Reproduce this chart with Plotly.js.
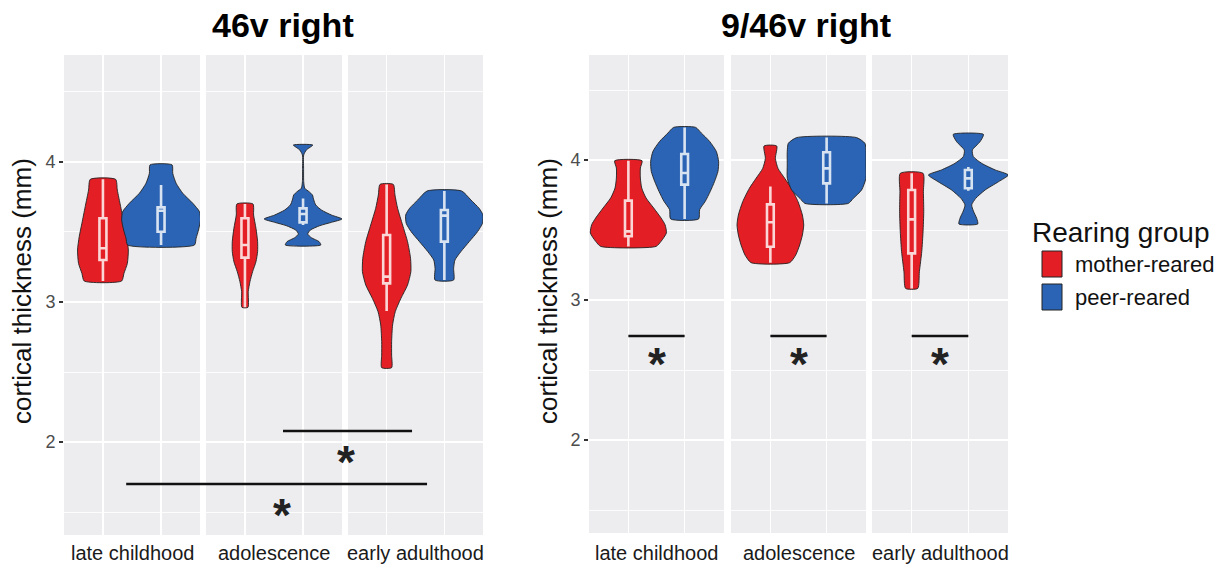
<!DOCTYPE html>
<html><head><meta charset="utf-8">
<script src="https://cdn.plot.ly/plotly-3.0.1.min.js"></script>
<style>html,body{margin:0;padding:0;background:#fff;}#chart{width:1221px;height:568px;}</style>
</head><body><div id="chart"></div>
<script>
// ---------------- DATA ----------------
const regions = ['46v right', '9/46v right'];
const ageGroups = ['late childhood', 'adolescence', 'early adulthood'];
const rearingGroups = ['mother-reared', 'peer-reared'];

// Violin outlines: cortical thickness levels (mm) and half-widths (x units)
// 46v right
const thick46_LC_mother = [3.876, 3.8, 3.681, 3.562, 3.467, 3.371, 3.276, 3.205, 3.15];
const halfw46_LC_mother = [0.218, 0.247, 0.305, 0.362, 0.408, 0.437, 0.42, 0.362, 0.322];
const thick46_LC_peer = [3.979, 3.919, 3.848, 3.776, 3.705, 3.645, 3.586, 3.514, 3.455, 3.407];
const halfw46_LC_peer = [0.19, 0.201, 0.259, 0.374, 0.546, 0.661, 0.678, 0.644, 0.603, 0.575];
const thick46_AD_mother = [3.7, 3.621, 3.526, 3.431, 3.36, 3.288, 3.217, 3.145, 3.074, 2.962];
const halfw46_AD_mother = [0.138, 0.149, 0.19, 0.218, 0.218, 0.19, 0.132, 0.086, 0.057, 0.052];
const thick46_AD_peer = [4.121, 4.086, 4.05, 3.955, 3.86, 3.812, 3.788, 3.764, 3.729, 3.693, 3.657, 3.621, 3.593, 3.569, 3.545, 3.514, 3.486, 3.459, 3.431, 3.407];
const halfw46_AD_peer = [0.167, 0.057, 0.011, 0.009, 0.011, 0.029, 0.103, 0.161, 0.184, 0.218, 0.316, 0.489, 0.67, 0.489, 0.287, 0.126, 0.08, 0.144, 0.276, 0.305];
const thick46_EA_mother = [3.84, 3.764, 3.669, 3.55, 3.431, 3.312, 3.217, 3.121, 3.026, 2.931, 2.836, 2.717, 2.621, 2.531];
const halfw46_EA_mother = [0.115, 0.144, 0.19, 0.276, 0.362, 0.414, 0.42, 0.362, 0.247, 0.149, 0.103, 0.086, 0.086, 0.086];
const thick46_EA_peer = [3.793, 3.729, 3.669, 3.621, 3.562, 3.502, 3.431, 3.36, 3.3, 3.24, 3.157];
const halfw46_EA_peer = [0.299, 0.46, 0.603, 0.67, 0.661, 0.575, 0.431, 0.287, 0.184, 0.161, 0.161];
// 9/46v right
const thick946_LC_mother = [3.995, 3.943, 3.871, 3.8, 3.729, 3.657, 3.586, 3.538, 3.479, 3.419, 3.383];
const halfw946_LC_mother = [0.243, 0.213, 0.213, 0.237, 0.314, 0.45, 0.581, 0.652, 0.676, 0.581, 0.492];
const thick946_LC_peer = [4.233, 4.193, 4.133, 4.062, 3.99, 3.919, 3.848, 3.776, 3.705, 3.645, 3.579];
const halfw946_LC_peer = [0.196, 0.296, 0.444, 0.563, 0.604, 0.593, 0.533, 0.456, 0.367, 0.267, 0.249];
const thick946_AD_mother = [4.1, 4.012, 3.94, 3.869, 3.798, 3.702, 3.607, 3.536, 3.464, 3.393, 3.321, 3.267];
const halfw946_AD_mother = [0.113, 0.089, 0.136, 0.255, 0.373, 0.492, 0.569, 0.593, 0.569, 0.521, 0.45, 0.344];
const thick946_AD_peer = [4.16, 4.119, 4.06, 3.964, 3.869, 3.786, 3.726, 3.69];
const halfw946_AD_peer = [0.533, 0.681, 0.7, 0.7, 0.699, 0.622, 0.474, 0.385];
const thick946_EA_mother = [3.905, 3.774, 3.631, 3.488, 3.345, 3.202, 3.083];
const halfw946_EA_mother = [0.201, 0.207, 0.213, 0.201, 0.178, 0.136, 0.107];
const thick946_EA_peer = [4.183, 4.131, 4.071, 4.024, 3.976, 3.929, 3.893, 3.845, 3.786, 3.726, 3.679, 3.636, 3.583, 3.543];
const halfw946_EA_peer = [0.267, 0.207, 0.071, 0.089, 0.237, 0.474, 0.705, 0.533, 0.296, 0.13, 0.059, 0.089, 0.148, 0.166];

// Box statistics, order: LC mother, LC peer, AD mother, AD peer, EA mother, EA peer
const box46_q1 = [3.3, 3.502, 3.317, 3.569, 3.133, 3.431];
const box46_median = [3.384, 3.652, 3.407, 3.629, 3.181, 3.617];
const box46_q3 = [3.598, 3.676, 3.598, 3.669, 3.479, 3.657];
const box46_lo = [3.15, 3.407, 2.962, 3.55, 2.936, 3.157];
const box46_hi = [3.876, 3.836, 3.7, 3.74, 3.84, 3.793];
const box946_q1 = [3.455, 3.824, 3.381, 3.833, 3.333, 3.798];
const box946_median = [3.49, 3.907, 3.555, 3.94, 3.576, 3.869];
const box946_q3 = [3.71, 4.043, 3.683, 4.055, 3.786, 3.929];
const box946_lo = [3.383, 3.579, 3.267, 3.69, 3.083, 3.78];
const box946_hi = [3.995, 4.233, 3.81, 4.16, 3.905, 3.95];

// Significance marks
const sig46_levels = [2.079, 1.7];          // bar heights (mm): adolescence vs early adulthood, late childhood vs early adulthood
const sig46_starLevels = [1.921, 1.543];
const sig946_level = 2.743;                 // mother vs peer within each age group
const sig946_starLevel = 2.607;
const tickValues = [2, 3, 4];
const tickLabels = ['2', '3', '4'];

// ---------------- DRAWING ----------------
const colors = ['#E31E24', '#2B64B4'];
const W = 1221, H = 568;
const facetPx = [[64, 200], [206, 342], [348, 483], [589, 724], [731, 866], [872, 1008]];
const xRanges = [[0.33, 2.67], [0.3, 2.7]];
const yRanges = [[1.336, 4.764], [1.336, 4.75]];
const yDomPx = [[55, 535], [55, 533]];

const violinTable = [
  [[thick46_LC_mother, halfw46_LC_mother], [thick46_LC_peer, halfw46_LC_peer]],
  [[thick46_AD_mother, halfw46_AD_mother], [thick46_AD_peer, halfw46_AD_peer]],
  [[thick46_EA_mother, halfw46_EA_mother], [thick46_EA_peer, halfw46_EA_peer]],
  [[thick946_LC_mother, halfw946_LC_mother], [thick946_LC_peer, halfw946_LC_peer]],
  [[thick946_AD_mother, halfw946_AD_mother], [thick946_AD_peer, halfw946_AD_peer]],
  [[thick946_EA_mother, halfw946_EA_mother], [thick946_EA_peer, halfw946_EA_peer]]
];
const boxTable = [
  [box46_q1, box46_median, box46_q3, box46_lo, box46_hi],
  [box946_q1, box946_median, box946_q3, box946_lo, box946_hi]
];

const traces = [];
for (let f = 0; f < 6; f++) {
  const panel = f < 3 ? 0 : 1;
  const xa = f === 0 ? 'x' : 'x' + (f + 1);
  const xo = 'x' + (f + 7);              // overlay axis so boxes sit above the violins
  const ya = panel === 0 ? 'y' : 'y2';
  for (let g = 0; g < 2; g++) {
    const [ys, ws] = violinTable[f][g];
    const c = g + 1;
    const px = ys.map((v, i) => c + ws[i]).concat(ys.slice().reverse().map((v, i) => c - ws[ws.length - 1 - i]));
    const py = ys.concat(ys.slice().reverse());
    px.push(px[0]); py.push(py[0]);
    traces.push({
      type: 'scatter', mode: 'lines', x: px, y: py, xaxis: xa, yaxis: ya,
      fill: 'toself', fillcolor: colors[g],
      line: {color: '#222', width: 0.9, shape: 'spline', smoothing: 0.6},
      showlegend: false, hoverinfo: 'skip'
    });
    const k = (f % 3) * 2 + g;
    const bt = boxTable[panel];
    traces.push({
      type: 'box', x: [c], q1: [bt[0][k]], median: [bt[1][k]], q3: [bt[2][k]],
      lowerfence: [bt[3][k]], upperfence: [bt[4][k]],
      xaxis: xo, yaxis: ya, width: 0.12, whiskerwidth: 0, boxpoints: false,
      line: {color: 'rgba(255,255,255,0.82)', width: 2.6}, fillcolor: 'rgba(0,0,0,0)',
      showlegend: false, hoverinfo: 'skip'
    });
  }
}

const layout = {
  width: W, height: H, margin: {l: 0, r: 0, t: 0, b: 0},
  paper_bgcolor: '#ffffff', plot_bgcolor: '#EDEDF0',
  boxmode: 'overlay', showlegend: false,
  font: {family: 'Liberation Sans, Arial, sans-serif', color: '#000'},
  shapes: [], annotations: []
};
for (let f = 0; f < 6; f++) {
  const panel = f < 3 ? 0 : 1;
  const key = f === 0 ? 'xaxis' : 'xaxis' + (f + 1);
  layout[key] = {
    domain: [facetPx[f][0] / W, facetPx[f][1] / W], range: xRanges[panel],
    anchor: panel === 0 ? 'y' : 'y2', tickmode: 'array', tickvals: [1, 2],
    showticklabels: false, ticks: '', showgrid: true, gridcolor: '#ffffff', gridwidth: 1.6,
    zeroline: false, showline: false, fixedrange: true
  };
  layout['xaxis' + (f + 7)] = {
    overlaying: f === 0 ? 'x' : 'x' + (f + 1), range: xRanges[panel],
    anchor: panel === 0 ? 'y' : 'y2', visible: false, showgrid: false, zeroline: false, fixedrange: true
  };
}
for (let p = 0; p < 2; p++) {
  const key = p === 0 ? 'yaxis' : 'yaxis2';
  layout[key] = {
    domain: [1 - yDomPx[p][1] / H, 1 - yDomPx[p][0] / H], range: yRanges[p],
    anchor: p === 0 ? 'x' : 'x4', tickmode: 'array', tickvals: tickValues, ticktext: tickLabels,
    ticks: 'outside', ticklen: 4, tickwidth: 1.2, tickcolor: '#333333',
    tickfont: {size: 18, color: '#4D4D4D'},
    showgrid: true, gridcolor: '#ffffff', gridwidth: 1.6,
    minor: {tickmode: 'linear', tick0: 0, dtick: 0.5, showgrid: true, gridcolor: '#ffffff', gridwidth: 0.8, ticks: ''},
    zeroline: false, showline: false, fixedrange: true
  };
}

function paperX(f, xu) {
  const r = xRanges[f < 3 ? 0 : 1];
  return (facetPx[f][0] + (xu - r[0]) / (r[1] - r[0]) * (facetPx[f][1] - facetPx[f][0])) / W;
}

// titles
const titleX = [283, 806];
regions.forEach((r, p) => layout.annotations.push({
  text: '<b>' + r + '</b>', x: titleX[p] / W, y: 1 - 25 / H, xref: 'paper', yref: 'paper',
  showarrow: false, font: {size: 34, color: '#000'}, xanchor: 'center', yanchor: 'middle'
}));
// y-axis titles
const yTitleX = [22, 548];
[0, 1].forEach(p => layout.annotations.push({
  text: 'cortical thickness (mm)', x: yTitleX[p] / W, y: 1 - 291 / H, xref: 'paper', yref: 'paper',
  textangle: -90, showarrow: false, font: {size: 26, color: '#111'}, xanchor: 'center', yanchor: 'middle'
}));
// facet labels
for (let f = 0; f < 6; f++) {
  layout.annotations.push({
    text: ageGroups[f % 3], x: paperX(f, 1.5), y: 1 - 553 / H, xref: 'paper', yref: 'paper',
    showarrow: false, font: {size: 20, color: '#1A1A1A'}, xanchor: 'center', yanchor: 'middle'
  });
}
// significance – 46v (bars across age groups)
const sig46Ends = [[[1, 1.655], [2, 1.44]], [[0, 1.4], [2, 1.7]]];
const sig46StarPx = [346, 282];
sig46_levels.forEach((lev, i) => {
  layout.shapes.push({type: 'line', xref: 'paper', yref: 'y',
    x0: paperX(sig46Ends[i][0][0], sig46Ends[i][0][1]), x1: paperX(sig46Ends[i][1][0], sig46Ends[i][1][1]),
    y0: lev, y1: lev, line: {color: '#111', width: 2.6}});
  layout.annotations.push({text: '<b>*</b>', xref: 'paper', yref: 'y', x: sig46StarPx[i] / W, y: sig46_starLevels[i],
    showarrow: false, font: {size: 46, color: '#222'}, xanchor: 'center', yanchor: 'middle', yshift: -9});
});
// significance – 9/46v (mother vs peer within each age group)
for (let f = 3; f < 6; f++) {
  const xa = 'x' + (f + 1);
  layout.shapes.push({type: 'line', xref: xa, yref: 'y2', x0: 1, x1: 2, y0: sig946_level, y1: sig946_level,
    line: {color: '#111', width: 2.6}});
  layout.annotations.push({text: '<b>*</b>', xref: xa, yref: 'y2', x: 1.5, y: sig946_starLevel,
    showarrow: false, font: {size: 46, color: '#222'}, xanchor: 'center', yanchor: 'middle', yshift: -9});
}
// legend
layout.annotations.push({text: 'Rearing group', x: 1030 / W, y: 1 - 232 / H, xref: 'paper', yref: 'paper',
  showarrow: false, xanchor: 'left', yanchor: 'middle', font: {size: 28, color: '#111'}});
const legKeyY = [[251, 277], [284, 310]];
rearingGroups.forEach((g, i) => {
  layout.shapes.push({type: 'rect', xref: 'paper', yref: 'paper', x0: 1042 / W, x1: 1062 / W,
    y0: 1 - legKeyY[i][1] / H, y1: 1 - legKeyY[i][0] / H, fillcolor: colors[i], line: {color: '#222', width: 1}});
  layout.annotations.push({text: g, x: 1073 / W, y: 1 - (legKeyY[i][0] + legKeyY[i][1]) / 2 / H, xref: 'paper', yref: 'paper',
    showarrow: false, xanchor: 'left', yanchor: 'middle', font: {size: 22, color: '#111'}});
});

Plotly.newPlot('chart', traces, layout, {staticPlot: true, displayModeBar: false});
</script></body></html>
